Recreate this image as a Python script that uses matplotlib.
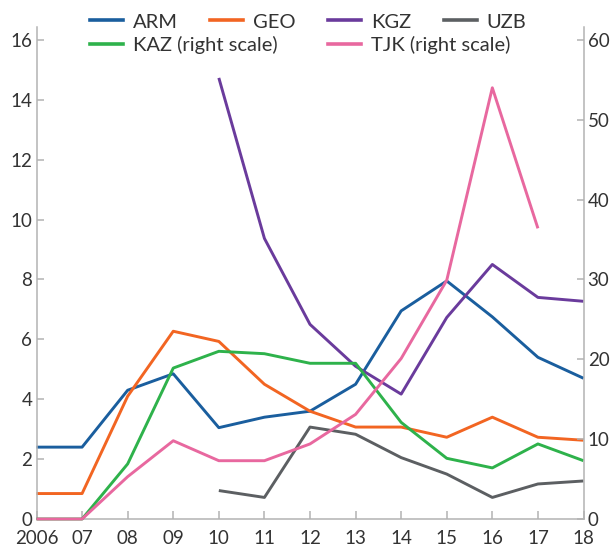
import numpy as np
import matplotlib
matplotlib.use("Agg")
import matplotlib.pyplot as plt
from matplotlib.lines import Line2D

plt.rcParams['font.family'] = ['Lato', 'DejaVu Sans']

# datos
years = np.arange(2006, 2019)
xlabels = ["2006", "07", "08", "09", "10", "11", "12", "13", "14", "15", "16", "17", "18"]
nan = np.nan

# eje izquierdo
arm = [2.4, 2.4, 4.3, 4.85, 3.05, 3.4, 3.6, 4.5, 6.95, 7.95, 6.75, 5.4, 4.7]
geo = [0.85, 0.85, 4.1, 6.27, 5.93, 4.5, 3.6, 3.07, 3.07, 2.73, 3.4, 2.73, 2.63]
kgz = [nan, nan, nan, nan, 14.73, 9.37, 6.5, 5.1, 4.17, 6.73, 8.5, 7.4, 7.27]
uzb = [nan, nan, nan, nan, 0.95, 0.72, 3.07, 2.83, 2.05, 1.5, 0.72, 1.17, 1.27]

# eje derecho
kaz = [0, 0, 6.9, 18.9, 21.0, 20.7, 19.5, 19.5, 12.1, 7.6, 6.4, 9.4, 7.3]
tjk = [0, 0, 5.3, 9.8, 7.3, 7.3, 9.4, 13.1, 20.1, 29.9, 54.0, 36.4, nan]

left_series = [("ARM", arm, "#1a5e9e"), ("GEO", geo, "#f26522"),
               ("KGZ", kgz, "#6a3b9c"), ("UZB", uzb, "#5c5f62")]
right_series = [("KAZ (right scale)", kaz, "#2eb24b"), ("TJK (right scale)", tjk, "#e8689f")]

txt = "#333333"
spine_c = "#b3b3b3"
fs = 13.5
fs_leg = 14.5

fig = plt.figure(figsize=(6.13, 5.48), dpi=100)
ax = fig.add_axes([36.5 / 613, 29 / 548, 547 / 613, 492 / 548])
ax2 = ax.twinx()

for name, vals, c in left_series:
    ax.plot(years, vals, color=c, lw=2.1, clip_on=False, solid_capstyle='butt')
for name, vals, c in right_series:
    ax2.plot(years, vals, color=c, lw=2.1, clip_on=False, solid_capstyle='butt')

ax.set_xlim(2006, 2018)
ax.set_ylim(0, 16.43)
ax2.set_ylim(0, 16.43 / 16 * 60)
ax.set_xticks(years)
ax.set_xticklabels(xlabels)
ax.set_yticks(np.arange(0, 17, 2))
ax2.set_yticks(np.arange(0, 61, 10))

for a in (ax, ax2):
    for s in a.spines.values():
        s.set_color(spine_c)
        s.set_linewidth(1.1)
    a.spines['top'].set_visible(False)
ax.spines['right'].set_visible(False)
ax2.spines['left'].set_visible(False)
ax2.spines['bottom'].set_visible(False)

ax.tick_params(axis='x', direction='in', length=6, width=1.1, color=spine_c,
               labelsize=fs, labelcolor=txt, pad=8)
ax.tick_params(axis='y', direction='in', length=5, width=1.1, color=spine_c,
               labelsize=fs, labelcolor=txt, pad=3)
ax2.tick_params(axis='y', direction='in', length=5, width=1.1, color=spine_c,
                labelsize=fs, labelcolor=txt, pad=3)

# leyenda en dos filas
h1 = [Line2D([], [], color=c, lw=2.6) for _, _, c in left_series]
h2 = [Line2D([], [], color=c, lw=2.6) for _, _, c in right_series]
common = dict(frameon=False, fontsize=fs_leg, handlelength=1.64, handletextpad=0.5,
              borderpad=0, borderaxespad=0, labelcolor=txt, loc='center left')
leg1 = fig.legend(h1, [n for n, _, _ in left_series], ncol=4, columnspacing=1.6,
                  bbox_to_anchor=(90 / 613, 1 - 22 / 548), **common)
leg2 = fig.legend(h2, [n for n, _, _ in right_series], ncol=2, columnspacing=2.5,
                  bbox_to_anchor=(90 / 613, 1 - 45 / 548), **common)

fig.savefig("out.png", dpi=100)
